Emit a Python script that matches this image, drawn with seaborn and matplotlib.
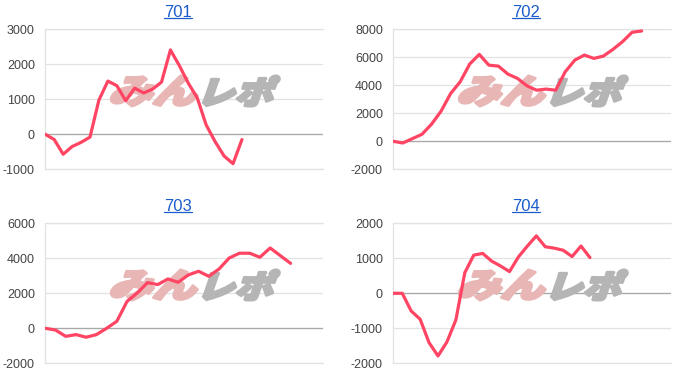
import numpy as np
import pandas as pd
import matplotlib
matplotlib.use("Agg")
import matplotlib.pyplot as plt
import seaborn as sns
from matplotlib.textpath import TextPath
from matplotlib.patches import PathPatch
from matplotlib.font_manager import FontProperties
from matplotlib.transforms import Affine2D, IdentityTransform
from matplotlib.lines import Line2D

# ---- data ----
titles = ["701", "702", "703", "704"]
v701 = [0, -150, -570, -350, -230, -80, 980, 1520, 1390, 960, 1320, 1180, 1290,
        1490, 2410, 1960, 1460, 1040, 265, -210, -620, -840, -150]
v702 = [0, -120, 190, 500, 1220, 2150, 3410, 4250, 5520, 6210, 5440, 5370, 4800,
        4490, 3960, 3650, 3730, 3650, 4970, 5800, 6160, 5920, 6090, 6570, 7120,
        7790, 7880]
v703 = [0, -100, -460, -360, -510, -360, 0, 400, 1540, 2020, 2610, 2500, 2820,
        2630, 3050, 3260, 2970, 3390, 4020, 4290, 4290, 4060, 4590, 4150, 3710]
v704 = [0, 0, -505, -740, -1410, -1790, -1390, -760, 590, 1090, 1140, 920, 780,
        620, 1040, 1350, 1640, 1330, 1290, 1230, 1050, 1350, 1020]
series = [v701, v702, v703, v704]
yticks = [[-1000, 0, 1000, 2000, 3000],
          [-2000, 0, 2000, 4000, 6000, 8000],
          [-2000, 0, 2000, 4000, 6000],
          [-2000, -1000, 0, 1000, 2000]]
x_extent = [31.1, 29.1, 27.2, 31.1]

# ---- style ----
LINE = "#ff4563"
GRID = "#e2e2e2"
ZERO = "#a8a8a8"
LINK = "#1a5ccc"
W, H = 700, 388

sns.set_style("white")
plt.rcParams["font.family"] = ["Liberation Sans", "DejaVu Sans"]

fig = plt.figure(figsize=(W / 100, H / 100), dpi=100)

plot_left = [45.3, 393.3, 45.3, 393.3]
plot_top = [29.3, 29.3, 223.3, 223.3]
plot_w, plot_h = 278, 140
title_cx = [178.3, 526.3, 178.3, 526.3]
title_base = [16.7, 16.7, 210.7, 210.7]

wm_font = FontProperties(family="Noto Sans CJK JP", weight="black")


def fit_path(text, box, skew=16):
    p = TextPath((0, 0), text, size=1, prop=wm_font)
    p = p.transformed(Affine2D().skew_deg(skew, 0))
    ext = p.get_extents()
    x0, y0, x1, y1 = box
    t = (Affine2D().translate(-ext.x0, -ext.y0)
         .scale((x1 - x0) / ext.width, (y1 - y0) / ext.height)
         .translate(x0, y0))
    return p.transformed(t)


axes = []
for i in range(4):
    l, t = plot_left[i], plot_top[i]
    ax = fig.add_axes([l / W, 1 - (t + plot_h) / H, plot_w / W, plot_h / H])
    axes.append(ax)
    df = pd.DataFrame({"x": np.arange(len(series[i])), "y": series[i]})
    sns.lineplot(data=df, x="x", y="y", ax=ax, color=LINE, linewidth=2.3,
                 zorder=4)
    ax.set_xlim(0, x_extent[i])
    ax.set_ylim(yticks[i][0], yticks[i][-1])
    ax.set_yticks(yticks[i])
    ax.set_yticklabels([str(v) for v in yticks[i]])
    ax.set_xticks([])
    ax.set_xlabel("")
    ax.set_ylabel("")
    ax.grid(axis="y", color=GRID, linewidth=0.9)
    ax.set_axisbelow(True)
    for s in ["top", "bottom", "left"]:
        ax.spines[s].set_color(GRID)
        ax.spines[s].set_linewidth(0.9)
    ax.spines["right"].set_visible(False)
    ax.axhline(0, color=ZERO, linewidth=0.9, zorder=2)
    ax.tick_params(axis="y", length=0, pad=7.5, labelsize=9,
                   labelcolor="#444444")

    # watermark (pixel coordinates, origin bottom-left), under the line
    wy0 = H - 106 - (t - 29.3)
    wy1 = H - 76 - (t - 29.3)
    p1 = fit_path("みん", (l + 66, wy0, l + 152, wy1))
    p2 = fit_path("レポ", (l + 158, wy0, l + 234, wy1))
    for p, c in [(p1, "#e9b6b6"), (p2, "#b5b5b5")]:
        patch = PathPatch(p, facecolor=c, edgecolor=c, linewidth=2.2,
                          joinstyle="round", transform=IdentityTransform(),
                          zorder=3)
        ax.add_artist(patch)

# titles with underline
fig.canvas.draw()
renderer = fig.canvas.get_renderer()
for i in range(4):
    txt = fig.text(title_cx[i] / W, 1 - title_base[i] / H, titles[i],
                   ha="center", va="baseline", color=LINK, fontsize=12)
    bb = txt.get_window_extent(renderer=renderer)
    uy = 1 - (title_base[i] + 1.7) / H
    fig.add_artist(Line2D([bb.x0 / W, bb.x1 / W], [uy, uy], color=LINK,
                          linewidth=0.9, transform=fig.transFigure))

fig.savefig("out.png", dpi=100)
